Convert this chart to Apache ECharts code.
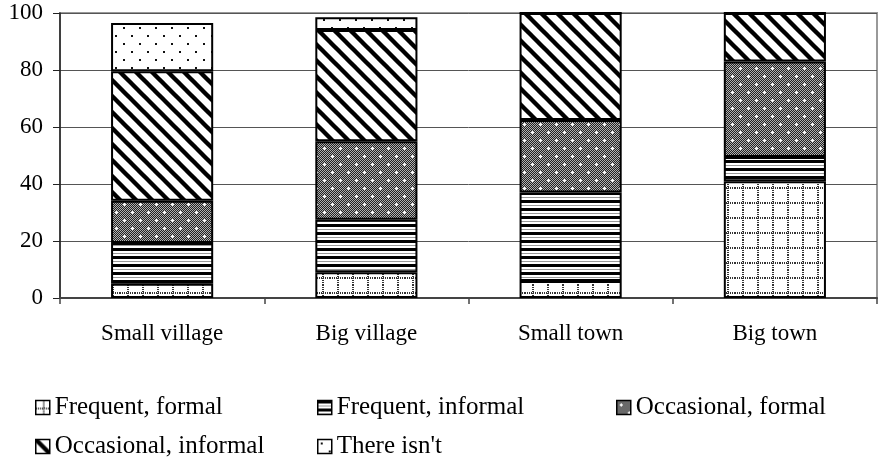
<!DOCTYPE html>
<html>
<head>
<meta charset="utf-8">
<title>Stacked bars</title>
<script src="https://cdn.jsdelivr.net/npm/echarts@6/dist/echarts.min.js"></script>
<style>
  html, body { margin: 0; padding: 0; background: #fff; }
  #chart { width: 881px; height: 459px; }
</style>
</head>
<body>
<div id="chart"></div>
<script>
// data (percent)
const categories = ['Small village', 'Big village', 'Small town', 'Big town'];
const seriesNames = ['Frequent, formal', 'Frequent, informal', 'Occasional, formal', 'Occasional, informal', "There isn't"];
const frequentFormal = [5, 9, 6, 41];
const frequentInformal = [14.3, 18.5, 31, 8.5];
const occasionalFormal = [14.8, 27.5, 25.5, 33.5];
const occasionalInformal = [45.5, 39, 37.5, 17];
const thereIsnt = [16.9, 4.5, 0, 0];
const yTicks = { min: 0, max: 100, interval: 20 };

// small canvas tiles used as fill patterns
function tile(w, h, draw) {
  const c = document.createElement('canvas');
  c.width = w; c.height = h;
  const ctx = c.getContext('2d');
  ctx.fillStyle = '#fff';
  ctx.fillRect(0, 0, w, h);
  draw(ctx);
  return { image: c, repeat: 'repeat' };
}

const patDottedGrid = tile(15, 15, ctx => {
  ctx.fillStyle = '#333';
  for (let i = 0; i < 15; i += 2) {
    ctx.fillRect(7, i, 2, 1);
    ctx.fillRect(i, 7, 1, 2);
  }
});

const patHStripes = tile(8, 8, ctx => {
  ctx.fillStyle = '#000';
  ctx.fillRect(0, 0, 8, 3);
  ctx.fillStyle = '#999';
  ctx.fillRect(0, 5, 8, 1);
});

const patCheckPlus = tile(16, 16, ctx => {
  for (let y = 0; y < 16; y++) {
    for (let x = 0; x < 16; x++) {
      ctx.fillStyle = (x + y) % 2 ? '#222' : '#b0b0b0';
      ctx.fillRect(x, y, 1, 1);
    }
  }
  ctx.fillStyle = '#fff';
  [[4, 4], [12, 12]].forEach(([cx, cy]) => {
    ctx.fillRect(cx - 1, cy, 3, 1);
    ctx.fillRect(cx, cy - 1, 1, 3);
  });
});

const patDiag = tile(16, 16, ctx => {
  ctx.strokeStyle = '#000';
  ctx.lineWidth = 4.4;
  [-16, 0, 16].forEach(k => {
    ctx.beginPath();
    ctx.moveTo(k - 4, -4);
    ctx.lineTo(k + 20, 20);
    ctx.stroke();
  });
});

const patDots = tile(16, 16, ctx => {
  ctx.fillStyle = '#111';
  ctx.fillRect(3, 3, 2, 2);
  ctx.fillRect(11, 11, 2, 2);
});

const seriesData = [frequentFormal, frequentInformal, occasionalFormal, occasionalInformal, thereIsnt];
const patterns = [patDottedGrid, patHStripes, patCheckPlus, patDiag, patDots];

const font = 'Liberation Serif';
const legendPos = [
  { left: 30, top: 390 },
  { left: 312, top: 390 },
  { left: 611, top: 390 },
  { left: 30, top: 429 },
  { left: 312, top: 429 }
];

const chart = echarts.init(document.getElementById('chart'));
chart.setOption({
  animation: false,
  textStyle: { fontFamily: font, color: '#000' },
  grid: {
    left: 60, right: 4, top: 13, bottom: 161,
    show: true, borderColor: '#999', borderWidth: 2
  },
  legend: seriesNames.map((name, i) => ({
    data: [name],
    left: legendPos[i].left,
    top: legendPos[i].top,
    icon: 'rect',
    itemWidth: 14,
    itemHeight: 14,
    selectedMode: false,
    itemStyle: { borderColor: '#000', borderWidth: 1.5 },
    textStyle: { fontFamily: font, fontSize: 25, color: '#000' }
  })),
  xAxis: {
    type: 'category',
    data: categories,
    axisLine: { lineStyle: { color: '#444', width: 2 } },
    axisTick: { show: true, length: 6, lineStyle: { color: '#444', width: 1.5 } },
    axisLabel: { fontFamily: font, fontSize: 23, color: '#000', margin: 24 }
  },
  yAxis: {
    type: 'value',
    min: yTicks.min,
    max: yTicks.max,
    interval: yTicks.interval,
    axisLine: { show: true, lineStyle: { color: '#222', width: 1.5 } },
    axisTick: { show: true, length: 7, lineStyle: { color: '#222' } },
    axisLabel: { fontFamily: font, fontSize: 23, color: '#000', margin: 17 },
    splitLine: { lineStyle: { color: '#555', width: 1 } }
  },
  series: seriesNames.map((name, i) => ({
    name: name,
    type: 'bar',
    stack: 'total',
    barWidth: '50%',
    data: seriesData[i],
    itemStyle: { color: patterns[i], borderColor: '#000', borderWidth: 2 }
  }))
});
</script>
</body>
</html>
